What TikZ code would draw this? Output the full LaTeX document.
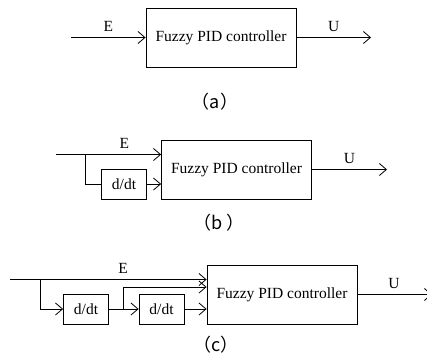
\documentclass[tikz,border=0pt]{standalone}
\usepackage{fontspec}
\setmainfont{Liberation Serif}
\newfontfamily\cjk{Noto Sans CJK SC}
\usetikzlibrary{arrows.meta,positioning}

\begin{document}
\begin{tikzpicture}[x=1pt, y=-1pt, line width=0.8pt,
    >={Straight Barb[length=7pt,width=12pt]},
    every node/.style={font=\fontsize{15.5}{18}\selectfont},
    ctrl/.style={draw, rectangle, minimum width=150pt, minimum height=59pt, inner sep=0pt},
    diff/.style={draw, rectangle, minimum width=45pt, minimum height=30pt, inner sep=0pt},
    sig/.style={above=5.5pt, inner sep=0pt},
    subcap/.style={font=\cjk\fontsize{18}{20}\selectfont}]
    \useasboundingbox (0,0) rectangle (427,361);

    % (a) plain controller
    \node[ctrl] (fa) at (221,37.5) {Fuzzy PID controller};
    \coordinate (ina) at (71,37.5);
    \coordinate (outa) at (371,37.5);
    \draw[->] (ina) -- (fa.west) node[midway, sig] {E};
    \draw[->] (fa.east) -- (outa) node[midway, sig] {U};
    \node[subcap] (capa) at (215,102) {（a）};

    % (b) error and its derivative
    \node[ctrl] (fb) at (236.5,169.5) {Fuzzy PID controller};
    \node[diff] (db) at (124,184) {d/dt};
    \coordinate (inb) at (56,154.5);
    \coordinate (brb) at (85.5,154.5);
    \coordinate (outb) at (387,169.5);
    \draw[->] (inb) -- (fb.west |- inb) node[pos=0.65, sig] {E};
    \draw (brb) |- (db.west);
    \draw[->] (db.east) -- (fb.west |- db);
    \draw[->] (fb.east) -- (outb) node[midway, sig] {U};
    \node[subcap] (capb) at (219,223) {（b ）};

    % (c) error, first and second derivative
    \node[ctrl] (fc) at (282,294.5) {Fuzzy PID controller};
    \node[diff] (dc1) at (86,309) {d/dt};
    \node[diff] (dc2) at (161.5,309) {d/dt};
    \coordinate (inc) at (10,279.5);
    \coordinate (brc1) at (40.5,279.5);
    \coordinate (brc2) at (123,309);
    \coordinate (outc) at (432,294.5);
    \draw[->] (inc) -- (fc.west |- inc) node[pos=0.575, sig] {E};
    \draw[->] (brc1) |- (dc1.west);
    \draw[->] (dc1.east) -- (dc2.west);
    \draw[->] (brc2) |- (fc.west |- 0,287);
    \draw[->] (dc2.east) -- (fc.west |- dc2);
    \draw[->] (fc.east) -- (outc);
    \node[sig] (uc) at (394,294.5) {U};
    \node[subcap] (capc) at (216,345) {（c）};
\end{tikzpicture}
\end{document}
